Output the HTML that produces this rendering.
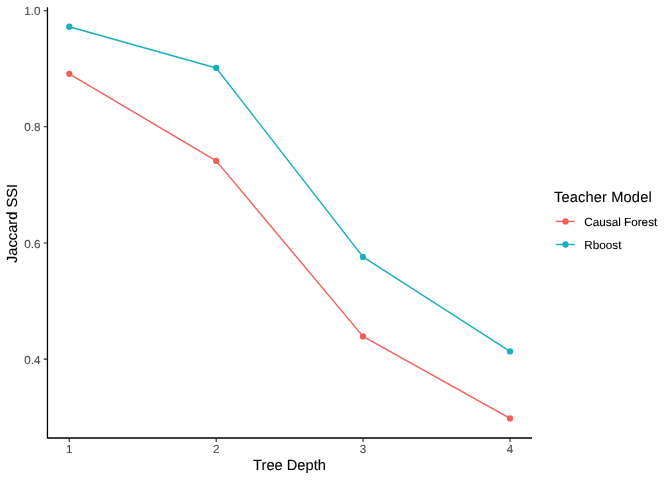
<!DOCTYPE html>
<html><head><meta charset="utf-8">
<style>
html,body{margin:0;padding:0;background:#fff;}
svg{display:block;will-change:transform;}
text{font-family:"Liberation Sans",sans-serif;text-rendering:geometricPrecision;}
</style></head>
<body>
<svg width="672" height="480" viewBox="0 0 672 480" xmlns="http://www.w3.org/2000/svg">
<rect width="672" height="480" fill="#fff"/>
<!-- lines -->
<polyline points="69.3,73.85 216.2,160.9 363.0,336.4 510.0,418.4" fill="none" stroke="#F2605B" stroke-width="1.42" stroke-linejoin="round"/>
<polyline points="69.25,26.75 216.2,67.95 363.0,256.9 510.0,351.4" fill="none" stroke="#18B1B7" stroke-width="1.42" stroke-linejoin="round"/>
<g fill="#F2605B">
<circle cx="69.3" cy="73.85" r="3.15"/><circle cx="216.2" cy="160.9" r="3.15"/><circle cx="363.0" cy="336.4" r="3.15"/><circle cx="510.0" cy="418.4" r="3.15"/>
</g>
<g fill="#18B1B7">
<circle cx="69.25" cy="26.75" r="3.15"/><circle cx="216.2" cy="67.95" r="3.15"/><circle cx="363.0" cy="256.9" r="3.15"/><circle cx="510.0" cy="351.4" r="3.15"/>
</g>
<!-- axes -->
<path d="M47.45,7.3 V438 H532" fill="none" stroke="#000" stroke-width="1.3" stroke-linecap="butt"/>
<g stroke="#262626" stroke-width="1.1">
<path d="M43.7,10.7 H47.4 M43.7,126.8 H47.4 M43.7,243.0 H47.4 M43.7,359.1 H47.4"/>
<path d="M69.25,438 V442 M216.2,438 V442 M363.0,438 V442 M510.0,438 V442"/>
</g>
<g fill="#4D4D4D" stroke="#4D4D4D" stroke-width="0.12" font-size="11.73" text-anchor="end">
<text x="40.5" y="15.2">1.0</text>
<text x="40.5" y="131.3">0.8</text>
<text x="40.5" y="247.5">0.6</text>
<text x="40.5" y="363.6">0.4</text>
</g>
<g fill="#4D4D4D" stroke="#4D4D4D" stroke-width="0.12" font-size="11.73" text-anchor="middle">
<text x="69.25" y="452.8">1</text>
<text x="216.2" y="452.8">2</text>
<text x="363.0" y="452.8">3</text>
<text x="510.0" y="452.8">4</text>
</g>
<text x="289.5" y="469.8" font-size="14.67" text-anchor="middle" fill="#000" stroke="#000" stroke-width="0.1">Tree Depth</text>
<text transform="translate(17.45,223.5) rotate(-90)" font-size="14.67" text-anchor="middle" fill="#000" stroke="#000" stroke-width="0.1">Jaccard SSI</text>
<!-- legend -->
<text x="554" y="201.8" font-size="14.67" fill="#000" stroke="#000" stroke-width="0.1" letter-spacing="0.13">Teacher Model</text>
<path d="M556.1,221.4 H574.8" stroke="#F2605B" stroke-width="1.42"/>
<circle cx="565.5" cy="221.4" r="3.15" fill="#F2605B"/>
<path d="M556.1,244.5 H574.8" stroke="#18B1B7" stroke-width="1.42"/>
<circle cx="565.5" cy="244.5" r="3.15" fill="#18B1B7"/>
<text x="584.3" y="225.6" font-size="11.73" fill="#000" stroke="#000" stroke-width="0.1">Causal Forest</text>
<text x="584.3" y="248.7" font-size="11.73" fill="#000" stroke="#000" stroke-width="0.1">Rboost</text>
</svg>
</body></html>
